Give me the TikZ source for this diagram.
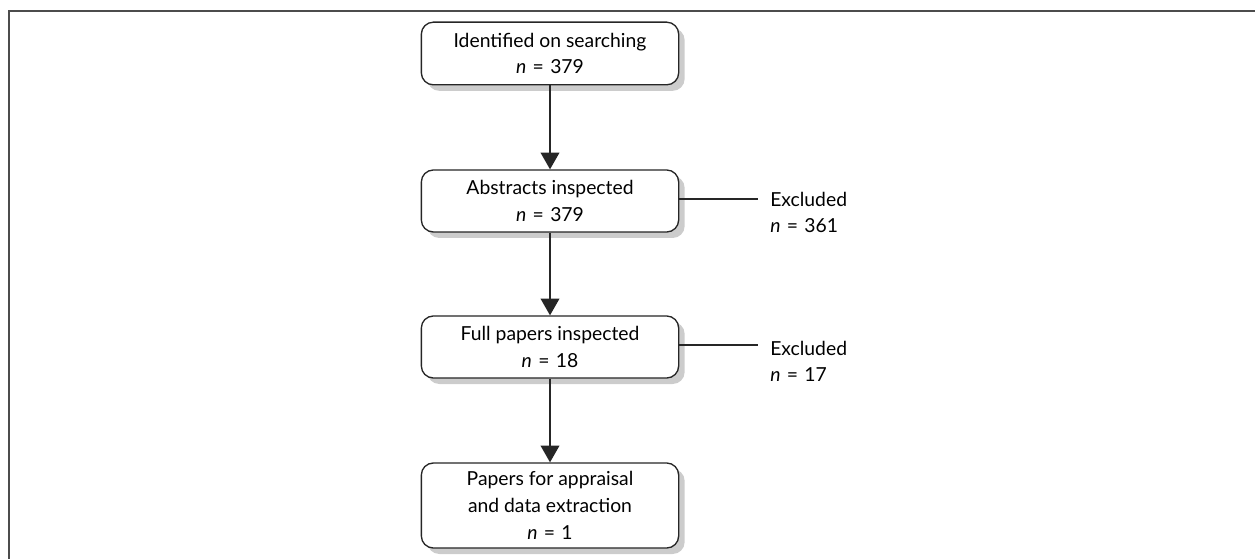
\documentclass[tikz,border=0pt]{standalone}
\usepackage{fontspec}
\setmainfont{Lato}
\usetikzlibrary{arrows.meta,shadows}
\newcommand{\eqn}[1]{\textit{n}\hspace{0.33em}=\hspace{0.33em}#1}
\begin{document}
\begin{tikzpicture}[x=0.75pt,y=-0.75pt,
  box/.style={draw=black!85,line width=1pt,rounded corners=9pt,fill=white,
    minimum width=193pt,align=center,font=\fontsize{14.5}{20}\selectfont,
    drop shadow={shadow xshift=4.5pt,shadow yshift=-4.5pt,fill=black!20,opacity=1}},
  excl/.style={align=left,anchor=west,inner sep=0pt,font=\fontsize{14.5}{19.5}\selectfont},
  flow/.style={line width=1.1pt,draw=black!85,-{Triangle[width=14pt,length=12.5pt]}},
  side/.style={line width=1pt,draw=black!85}]
\useasboundingbox (0,0) rectangle (1255,559);
\draw[line width=1.3pt,black!70] (9,559) -- (9,11) -- (1255,11);
\node[box,minimum height=47pt] (b1) at (550,53.5) {Identified on searching\\\eqn{379}};
\node[box,minimum height=46.5pt] (b2) at (550,201) {Abstracts inspected\\\eqn{379}};
\node[box,minimum height=46.5pt] (b3) at (550,347) {Full papers inspected\\\eqn{18}};
\node[box,minimum height=63.75pt] (b4) at (550,505.5) {Papers for appraisal\\and data extraction\\\eqn{1}};
\node[excl] (e1) at (770,212) {Excluded\\\eqn{361}};
\node[excl] (e2) at (770,361) {Excluded\\\eqn{17}};
\draw[flow] (b1) -- (b2);
\draw[flow] (b2) -- (b3);
\draw[flow] (b3) -- (b4);
\coordinate (s1) at ([yshift=1.5pt]b2.east);
\coordinate (t1) at ([xshift=-9pt]e1.west);
\coordinate (s2) at ([yshift=1.5pt]b3.east);
\coordinate (t2) at ([xshift=-9pt]e2.west);
\draw[side] (s1) -- (t1 |- s1);
\draw[side] (s2) -- (t2 |- s2);
\end{tikzpicture}
\end{document}
